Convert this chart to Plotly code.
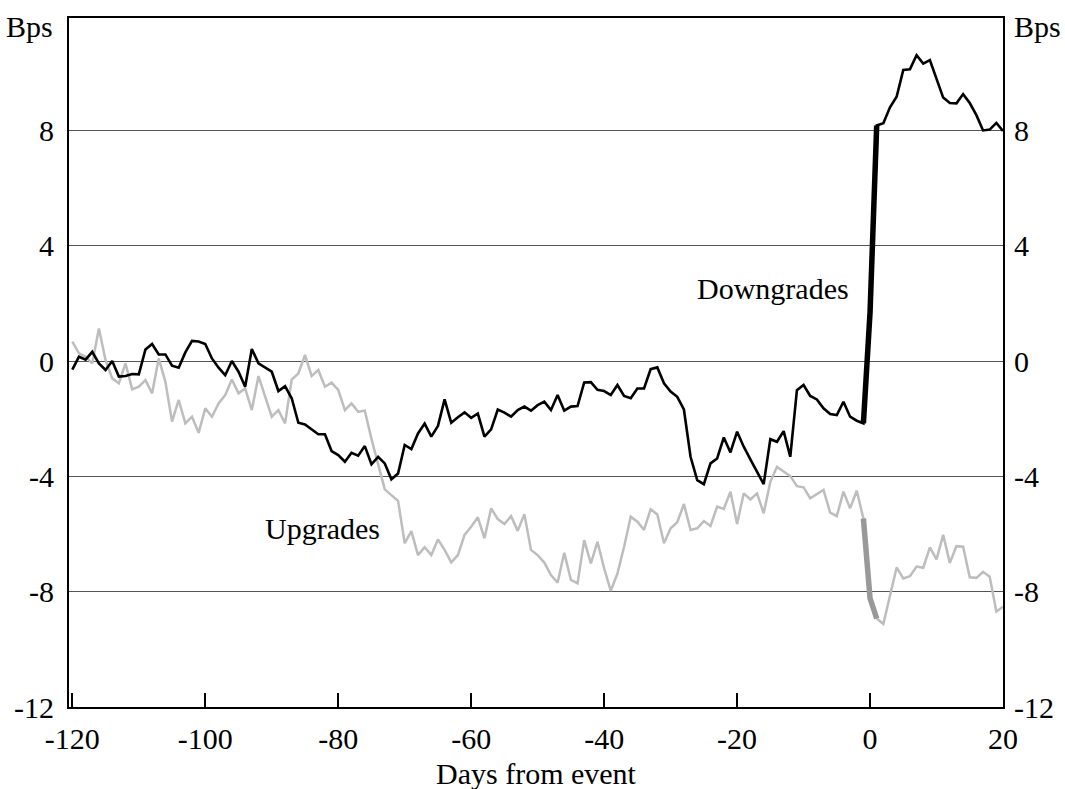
import plotly.graph_objects as go

days = list(range(-120, 21))

downgrades = [
    -0.30, 0.15, 0.05, 0.32, -0.08, -0.31, 0.00, -0.54, -0.52, -0.45,   # -120..-111
    -0.46, 0.40, 0.59, 0.23, 0.23, -0.16, -0.23, 0.30, 0.70, 0.68,      # -110..-101
    0.59, 0.09, -0.23, -0.49, 0.00, -0.37, -0.89, 0.42, -0.08, -0.22,   # -100..-91
    -0.37, -1.04, -0.87, -1.29, -2.14, -2.20, -2.37, -2.54, -2.54, -3.12,  # -90..-81
    -3.26, -3.49, -3.18, -3.28, -2.95, -3.58, -3.32, -3.55, -4.10, -3.90,  # -80..-71
    -2.91, -3.05, -2.51, -2.17, -2.62, -2.25, -1.33, -2.14, -1.95, -1.78,  # -70..-61
    -1.97, -1.82, -2.62, -2.37, -1.68, -1.79, -1.93, -1.70, -1.58, -1.72,  # -60..-51
    -1.53, -1.41, -1.70, -1.18, -1.72, -1.58, -1.56, -0.74, -0.73, -1.00,  # -50..-41
    -1.04, -1.18, -0.83, -1.21, -1.29, -0.95, -0.95, -0.28, -0.22, -0.77,  # -40..-31
    -1.06, -1.24, -1.68, -3.32, -4.13, -4.27, -3.55, -3.38, -2.65, -3.17,  # -30..-21
    -2.45, -2.97, -3.41, -3.84, -4.27, -2.71, -2.80, -2.43, -3.32, -1.01,  # -20..-11
    -0.83, -1.21, -1.33, -1.64, -1.84, -1.87, -1.41, -1.93, -2.07, -2.16,  # -10..-1
    1.70, 8.17, 8.25, 8.80, 9.17, 10.10, 10.12, 10.61, 10.32, 10.44,      # 0..9
    9.80, 9.14, 8.95, 8.94, 9.26, 8.95, 8.53, 8.00, 8.03, 8.26, 7.98,     # 10..20
]

upgrades = [
    0.67, 0.27, 0.15, -0.08, 1.13, 0.03, -0.60, -0.77, -0.08, -0.98,     # -120..-111
    -0.89, -0.66, -1.12, 0.09, -0.72, -2.10, -1.35, -2.16, -1.93, -2.49, # -110..-101
    -1.64, -1.93, -1.47, -1.18, -0.64, -1.12, -0.95, -1.70, -0.52, -1.24, # -100..-91
    -1.93, -1.70, -2.16, -0.64, -0.43, 0.21, -0.52, -0.31, -0.89, -0.75, # -90..-81
    -1.00, -1.70, -1.47, -1.76, -1.72, -2.70, -3.60, -4.45, -4.65, -4.85, # -80..-71
    -6.32, -5.90, -6.73, -6.46, -6.73, -6.19, -6.55, -6.98, -6.73, -6.03, # -70..-61
    -5.75, -5.42, -6.15, -5.11, -5.48, -5.65, -5.38, -5.89, -5.31, -6.55, # -60..-51
    -6.73, -6.99, -7.42, -7.69, -6.65, -7.59, -7.71, -6.21, -7.02, -6.27, # -50..-41
    -7.19, -7.97, -7.37, -6.44, -5.40, -5.57, -5.86, -5.14, -5.32, -6.32, # -40..-31
    -5.80, -5.59, -4.96, -5.86, -5.80, -5.55, -5.72, -5.05, -5.13, -4.53, # -30..-21
    -5.65, -4.59, -4.80, -4.59, -5.28, -4.19, -3.67, -3.84, -3.99, -4.34, # -20..-11
    -4.38, -4.76, -4.61, -4.47, -5.26, -5.38, -4.53, -5.11, -4.50, -5.46, # -10..-1
    -8.23, -8.93, -9.12, -8.12, -7.16, -7.54, -7.46, -7.13, -7.17, -6.46, # 0..9
    -6.88, -6.03, -7.00, -6.42, -6.44, -7.50, -7.52, -7.31, -7.48, -8.69, -8.52,  # 10..20
]

assert len(downgrades) == len(days) == len(upgrades)

event_days = [-1, 0, 1]
x_ticks = [-120, -100, -80, -60, -40, -20, 0, 20]
y_ticks = [-12, -8, -4, 0, 4, 8]

def sub(series, ds):
    return [series[days.index(d)] for d in ds]

FONT = "Liberation Serif, Times New Roman, serif"
FS = 30

fig = go.Figure()
fig.add_trace(go.Scatter(x=days, y=upgrades, mode="lines",
                         line=dict(color="#bdbdbd", width=2.5), showlegend=False))
fig.add_trace(go.Scatter(x=event_days, y=sub(upgrades, event_days), mode="lines",
                         line=dict(color="#999999", width=5.5), showlegend=False))
fig.add_trace(go.Scatter(x=days, y=downgrades, mode="lines",
                         line=dict(color="#000000", width=2.6), showlegend=False))
fig.add_trace(go.Scatter(x=event_days, y=sub(downgrades, event_days), mode="lines",
                         line=dict(color="#000000", width=5.5), showlegend=False))
# invisible trace for right axis
fig.add_trace(go.Scatter(x=days, y=downgrades, yaxis="y2", mode="lines",
                         line=dict(width=0), opacity=0, hoverinfo="skip", showlegend=False))

yr = [-12, 11.9]
fig.update_layout(
    width=1065, height=789,
    margin=dict(l=69, r=62, t=18, b=82),
    paper_bgcolor="white", plot_bgcolor="white",
    font=dict(family=FONT, size=FS, color="black"),
    xaxis=dict(range=[-120.5, 20], tickvals=x_ticks, ticktext=[str(v) for v in x_ticks],
               ticks="inside", ticklen=14, tickwidth=1.5, tickcolor="black",
               showline=True, linecolor="black", linewidth=2, mirror=True,
               showgrid=False, zeroline=False, ticklabelstandoff=4,
               tickfont=dict(family=FONT, size=FS)),
    yaxis=dict(range=yr, tickvals=y_ticks, ticktext=[str(v) for v in y_ticks],
               showline=True, linecolor="black", linewidth=2, mirror=True,
               showgrid=True, gridcolor="#555555", gridwidth=1, zeroline=False,
               ticks="", ticklabelstandoff=7, tickfont=dict(family=FONT, size=FS)),
    yaxis2=dict(range=yr, overlaying="y", side="right", tickvals=y_ticks,
                ticktext=[str(v) for v in y_ticks], showgrid=False, zeroline=False,
                showline=False, ticks="", ticklabelstandoff=10,
                tickfont=dict(family=FONT, size=FS)),
    annotations=[
        dict(text="Downgrades", x=-14.6, y=2.5, xref="x", yref="y", showarrow=False,
             xanchor="center", yanchor="middle", font=dict(family=FONT, size=FS)),
        dict(text="Upgrades", x=-82.3, y=-5.8, xref="x", yref="y", showarrow=False,
             xanchor="center", yanchor="middle", font=dict(family=FONT, size=FS)),
        dict(text="Bps", x=-0.015, y=0.987, xref="paper", yref="paper", showarrow=False,
             xanchor="right", yanchor="middle", font=dict(family=FONT, size=FS)),
        dict(text="Bps", x=1.0096, y=0.987, xref="paper", yref="paper", showarrow=False,
             xanchor="left", yanchor="middle", font=dict(family=FONT, size=FS)),
        dict(text="Days from event", x=0.5, y=-0.097, xref="paper", yref="paper",
             showarrow=False, xanchor="center", yanchor="middle",
             font=dict(family=FONT, size=FS)),
    ],
)

fig.write_html(
    "out.html",
    config={"displayModeBar": False},
    post_script="document.body.style.margin='0';document.body.style.overflow='hidden';",
)
